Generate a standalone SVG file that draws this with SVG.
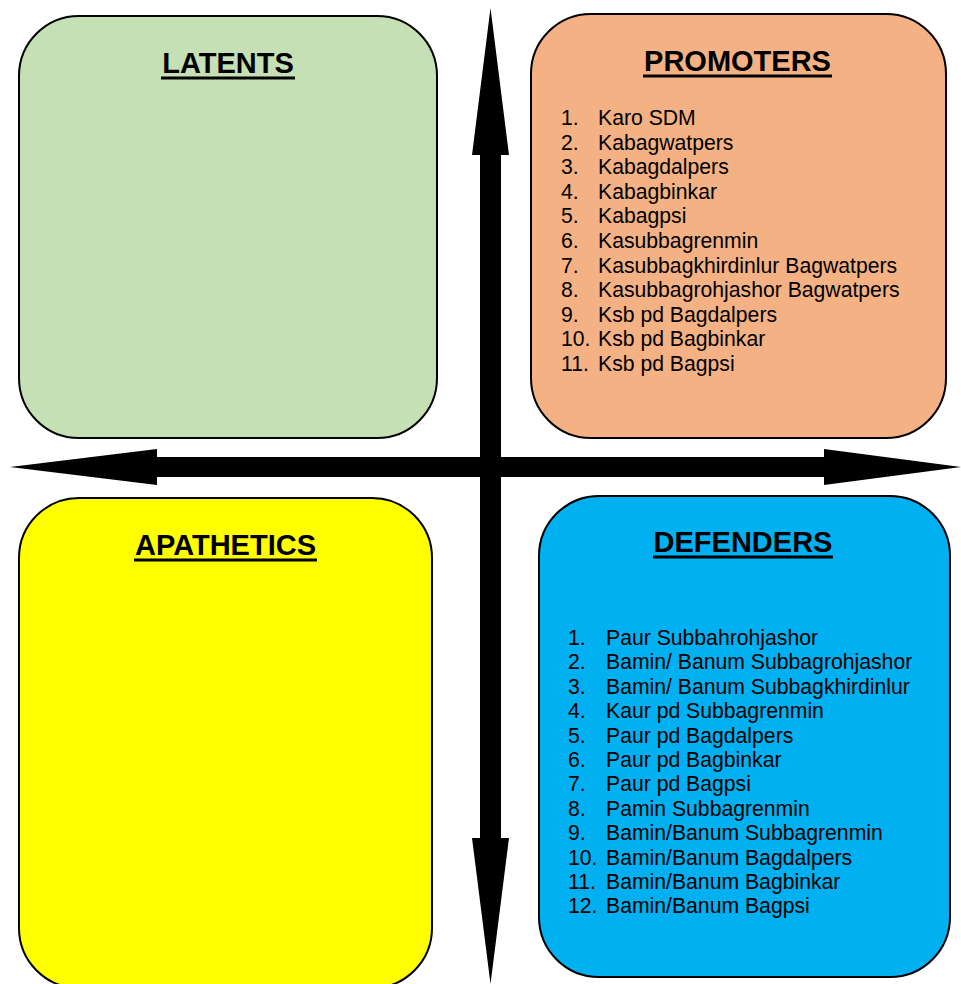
<svg xmlns="http://www.w3.org/2000/svg" width="961" height="984" viewBox="0 0 961 984">
<style>
.box{stroke:#000;stroke-width:2}
.title{font-family:"Liberation Sans",Arial,sans-serif;font-weight:bold;font-size:29px;text-anchor:middle;fill:#000}
.ul{stroke:#000;stroke-width:3}
.item{font-family:"Liberation Sans",Arial,sans-serif;font-size:21.2px;fill:#000}
.arrow{fill:#000}
</style>
<rect width="961" height="984" fill="#fff"/>
<g id="connectors">
<polygon class="arrow" points="490.5,8 509,155 501,155 501,838 509,838 490.5,984 472,838 480,838 480,155 472,155"/>
<polygon class="arrow" points="10,467 157,449 157,457 824,457 824,449 961,467 824,485 824,477 157,477 157,485"/>
</g>
<g id="latents">
<rect class="box" x="19" y="16" width="418" height="422" rx="60" ry="60" fill="#c5e0b4"/>
<text class="title" x="228" y="73">LATENTS</text>
<line class="ul" x1="161" y1="78" x2="295" y2="78"/>
</g>
<g id="promoters">
<rect class="box" x="531" y="14" width="415" height="424" rx="60" ry="60" fill="#f4b183"/>
<text class="title" x="737.5" y="71">PROMOTERS</text>
<line class="ul" x1="643" y1="76" x2="832" y2="76"/>
<g class="item">
<text x="561" y="125">1.</text><text x="598" y="125">Karo SDM</text>
<text x="561" y="149.6">2.</text><text x="598" y="149.6">Kabagwatpers</text>
<text x="561" y="174.2">3.</text><text x="598" y="174.2">Kabagdalpers</text>
<text x="561" y="198.8">4.</text><text x="598" y="198.8">Kabagbinkar</text>
<text x="561" y="223.4">5.</text><text x="598" y="223.4">Kabagpsi</text>
<text x="561" y="248">6.</text><text x="598" y="248">Kasubbagrenmin</text>
<text x="561" y="272.6">7.</text><text x="598" y="272.6">Kasubbagkhirdinlur Bagwatpers</text>
<text x="561" y="297.2">8.</text><text x="598" y="297.2">Kasubbagrohjashor Bagwatpers</text>
<text x="561" y="321.8">9.</text><text x="598" y="321.8">Ksb pd Bagdalpers</text>
<text x="561" y="346.4">10.</text><text x="598" y="346.4">Ksb pd Bagbinkar</text>
<text x="561" y="371">11.</text><text x="598" y="371">Ksb pd Bagpsi</text>
</g>
</g>
<g id="apathetics">
<rect class="box" x="19" y="498" width="413" height="490" rx="60" ry="60" fill="#ffff00"/>
<text class="title" x="225.5" y="555">APATHETICS</text>
<line class="ul" x1="134" y1="560" x2="317" y2="560"/>
</g>
<g id="defenders">
<rect class="box" x="539" y="496" width="411" height="481" rx="60" ry="60" fill="#00b0f0"/>
<text class="title" x="743" y="552">DEFENDERS</text>
<line class="ul" x1="653" y1="557" x2="833" y2="557"/>
<g class="item">
<text x="568" y="645">1.</text><text x="606" y="645">Paur Subbahrohjashor</text>
<text x="568" y="669.4">2.</text><text x="606" y="669.4">Bamin/ Banum Subbagrohjashor</text>
<text x="568" y="693.8">3.</text><text x="606" y="693.8">Bamin/ Banum Subbagkhirdinlur</text>
<text x="568" y="718.2">4.</text><text x="606" y="718.2">Kaur pd Subbagrenmin</text>
<text x="568" y="742.6">5.</text><text x="606" y="742.6">Paur pd Bagdalpers</text>
<text x="568" y="767">6.</text><text x="606" y="767">Paur pd Bagbinkar</text>
<text x="568" y="791.4">7.</text><text x="606" y="791.4">Paur pd Bagpsi</text>
<text x="568" y="815.8">8.</text><text x="606" y="815.8">Pamin Subbagrenmin</text>
<text x="568" y="840.2">9.</text><text x="606" y="840.2">Bamin/Banum Subbagrenmin</text>
<text x="568" y="864.6">10.</text><text x="606" y="864.6">Bamin/Banum Bagdalpers</text>
<text x="568" y="889">11.</text><text x="606" y="889">Bamin/Banum Bagbinkar</text>
<text x="568" y="913.4">12.</text><text x="606" y="913.4">Bamin/Banum Bagpsi</text>
</g>
</g>
</svg>
